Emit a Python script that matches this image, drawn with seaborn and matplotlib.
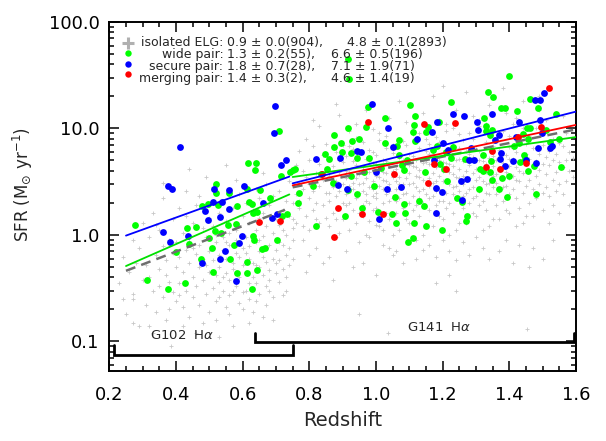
import matplotlib
matplotlib.use("Agg")
import matplotlib.pyplot as plt
from matplotlib.ticker import MultipleLocator, LogLocator, FixedLocator, FixedFormatter, NullFormatter
import seaborn as sns
import pandas as pd

# ---------------- data ----------------
gray_lowz = [
    (0.23,0.35),(0.24,0.62),(0.25,0.18),(0.26,0.45),(0.27,0.9),(0.27,0.28),(0.28,0.55),(0.29,0.14),(0.29,0.75),(0.30,0.38),
    (0.30,1.3),(0.24,0.25),(0.27,0.25),(0.27,0.15),(0.32,0.14),
    (0.31,0.52),(0.31,0.22),(0.32,0.95),(0.32,0.40),(0.33,0.30),(0.33,1.6),(0.34,0.65),(0.34,0.19),(0.35,0.48),(0.35,1.1),
    (0.35,0.33),(0.36,0.78),(0.36,0.26),(0.36,2.2),(0.37,0.58),(0.37,0.42),(0.37,0.16),(0.38,0.9),(0.38,0.36),(0.38,0.2),
    (0.385,0.09),(0.39,0.68),(0.39,1.4),(0.39,0.29),(0.40,0.5),(0.40,0.24),(0.40,0.85),(0.33,0.12),(0.36,3.1),(0.34,1.25),
    (0.41,0.62),(0.41,0.35),(0.41,1.8),(0.42,0.45),(0.42,0.21),(0.42,1.05),(0.43,0.72),(0.43,0.3),(0.43,2.6),(0.44,0.55),
    (0.44,0.17),(0.44,0.88),(0.45,0.4),(0.45,1.3),(0.45,0.26),(0.46,0.66),(0.46,0.33),(0.46,1.9),(0.46,0.12),(0.47,0.8),
    (0.47,0.5),(0.47,0.22),(0.48,1.15),(0.48,0.38),(0.48,0.6),(0.49,0.28),(0.49,0.95),(0.49,3.5),(0.50,0.45),(0.50,0.7),
    (0.50,0.19),(0.50,1.45),(0.44,4.2),(0.47,2.3),(0.42,0.14),(0.45,0.75),(0.48,0.15),(0.43,1.5),(0.49,0.52),(0.41,0.27),
    (0.51,0.58),(0.51,0.32),(0.51,1.2),(0.51,2.8),(0.52,0.42),(0.52,0.85),(0.52,0.24),(0.52,0.16),(0.53,0.65),(0.53,1.6),
    (0.53,0.36),(0.53,0.5),(0.54,0.3),(0.54,0.95),(0.54,0.72),(0.54,2.1),(0.55,0.44),(0.55,0.21),(0.55,1.35),(0.55,0.6),
    (0.56,0.27),(0.56,0.8),(0.56,1.05),(0.56,0.38),(0.57,0.55),(0.57,0.14),(0.57,1.8),(0.57,0.48),(0.58,0.33),(0.58,0.9),
    (0.58,0.68),(0.58,3.3),(0.59,0.4),(0.59,1.25),(0.59,0.23),(0.59,0.62),(0.60,0.75),(0.60,0.29),(0.60,1.5),(0.60,0.52),
    (0.53,0.11),(0.55,4.5),(0.56,0.18),(0.57,0.3),(0.58,0.45),(0.52,1.0),(0.54,0.4),(0.59,2.4),(0.51,0.75),(0.56,0.58),
    (0.60,0.2),(0.53,0.26),(0.55,0.85),(0.58,1.1),(0.57,0.78),
    (0.61,0.45),(0.61,0.95),(0.61,0.3),(0.61,2.0),(0.62,0.6),(0.62,0.25),(0.62,1.3),(0.62,0.78),(0.63,0.4),(0.63,1.7),
    (0.63,0.55),(0.63,0.19),(0.64,0.85),(0.64,0.35),(0.64,1.1),(0.64,2.7),(0.65,0.5),(0.65,0.7),(0.65,0.28),(0.65,1.45),
    (0.66,0.62),(0.66,0.42),(0.66,0.98),(0.66,3.8),(0.67,0.33),(0.67,1.2),(0.67,0.56),(0.67,0.22),(0.68,0.8),(0.68,1.9),
    (0.68,0.47),(0.68,0.38),(0.69,1.05),(0.69,0.6),(0.69,0.26),(0.69,2.3),(0.70,0.72),(0.70,1.4),(0.70,0.44),(0.70,0.9),
    (0.62,0.15),(0.64,0.52),(0.66,0.17),(0.67,0.75),(0.63,1.0),(0.65,2.2),(0.68,0.3),(0.69,0.16),(0.61,0.68),(0.64,0.24),
    (0.66,1.6),(0.67,3.0),(0.70,0.55),(0.62,0.35),(0.65,0.9),
    (0.71,0.58),(0.71,1.25),(0.71,0.36),(0.71,2.6),(0.72,0.8),(0.72,1.7),(0.72,0.48),(0.72,0.27),(0.73,1.0),(0.73,0.65),
    (0.73,2.1),(0.73,0.4),(0.74,1.5),(0.74,0.75),(0.74,3.2),(0.74,0.52),(0.75,1.15),(0.75,0.9),(0.75,2.0),(0.75,0.6),
    (0.72,1.1),(0.73,0.3),(0.74,4.0),(0.71,0.85),(0.75,1.4),
]

gray_highz = [
    (0.76,2.4),(0.76,4.5),(0.76,1.3),(0.77,3.1),(0.77,6.2),(0.77,1.8),(0.78,2.7),(0.78,0.9),(0.78,4.0),(0.79,3.5),
    (0.79,1.5),(0.79,8.0),(0.80,2.2),(0.80,5.0),(0.80,1.1),(0.80,3.0),(0.81,2.6),(0.81,6.8),(0.81,1.7),(0.82,3.8),
    (0.82,0.75),(0.82,2.0),(0.83,4.6),(0.83,2.9),(0.83,1.3),(0.83,10.5),(0.84,3.3),(0.84,1.9),(0.84,5.6),(0.84,0.55),
    (0.85,2.5),(0.85,4.2),(0.85,1.45),(0.85,7.2),(0.78,1.2),(0.80,0.65),(0.82,1.4),(0.77,2.1),(0.79,0.45),(0.81,12.0),
    (0.86,3.6),(0.86,2.1),(0.86,5.3),(0.86,1.2),(0.87,2.8),(0.87,4.4),(0.87,1.6),(0.87,8.5),(0.88,3.2),(0.88,2.3),
    (0.88,6.0),(0.88,0.95),(0.89,3.9),(0.89,1.8),(0.89,2.6),(0.89,13.5),(0.90,4.8),(0.90,3.0),(0.90,1.4),(0.90,7.0),
    (0.91,2.4),(0.91,3.4),(0.91,5.5),(0.91,0.7),(0.92,2.0),(0.92,4.1),(0.92,1.1),(0.92,9.5),(0.93,3.1),(0.93,6.4),
    (0.93,1.7),(0.93,2.7),(0.94,4.5),(0.94,2.2),(0.94,1.3),(0.94,11.0),(0.95,3.7),(0.95,5.8),(0.95,2.5),(0.95,0.85),
    (0.86,2.5),(0.87,3.3),(0.88,1.4),(0.89,5.0),(0.90,2.0),(0.91,4.0),(0.92,2.9),(0.93,0.5),(0.94,3.4),(0.95,1.6),
    (0.87,0.38),(0.95,0.18),(0.88,17.0),(0.92,6.9),(0.94,8.2),(0.86,0.62),(0.91,1.9),(0.93,4.9),(0.89,1.05),(0.95,3.0),
    (0.96,4.3),(0.96,2.6),(0.96,1.5),(0.96,7.5),(0.97,3.4),(0.97,5.2),(0.97,2.1),(0.97,1.0),(0.98,3.9),(0.98,2.8),
    (0.98,6.3),(0.98,1.35),(0.99,4.7),(0.99,2.3),(0.99,3.2),(0.99,9.8),(1.00,3.6),(1.00,1.8),(1.00,5.6),(1.00,2.5),
    (1.01,4.1),(1.01,2.9),(1.01,1.2),(1.01,7.8),(1.02,3.3),(1.02,5.0),(1.02,2.0),(1.02,0.8),(1.03,3.8),(1.03,2.4),
    (1.03,6.6),(1.03,1.6),(1.04,4.4),(1.04,3.0),(1.04,1.4),(1.04,12.5),(1.05,3.5),(1.05,5.9),(1.05,2.2),(1.05,0.65),
    (0.96,3.1),(0.97,2.4),(0.98,4.9),(0.99,1.7),(1.00,2.2),(1.01,3.5),(1.02,2.7),(1.03,4.9),(1.04,2.1),(1.05,4.0),
    (0.96,0.55),(0.98,0.95),(1.00,0.42),(1.02,1.1),(1.04,0.75),(0.97,15.0),(0.99,6.0),(1.01,9.0),(1.03,8.5),(1.05,7.0),
    (0.96,1.9),(0.98,2.0),(1.00,4.6),(1.01,1.6),(1.02,3.9),(1.03,3.2),(1.04,2.6),(0.99,2.7),(1.00,1.25),(1.036,0.12),
    (1.06,4.2),(1.06,2.7),(1.06,6.8),(1.06,1.6),(1.07,3.5),(1.07,5.3),(1.07,2.2),(1.07,1.1),(1.08,4.0),(1.08,3.0),
    (1.08,7.6),(1.08,1.8),(1.09,4.8),(1.09,2.5),(1.09,3.4),(1.09,11.5),(1.10,3.8),(1.10,2.0),(1.10,5.7),(1.10,1.3),
    (1.11,4.4),(1.11,3.1),(1.11,2.3),(1.11,8.8),(1.12,3.6),(1.12,5.1),(1.12,1.9),(1.12,0.9),(1.13,4.1),(1.13,2.6),
    (1.13,6.5),(1.13,1.5),(1.14,4.7),(1.14,3.3),(1.14,2.0),(1.14,14.0),(1.15,3.9),(1.15,6.1),(1.15,2.4),(1.15,1.2),
    (1.06,3.2),(1.07,4.5),(1.08,2.4),(1.09,1.4),(1.10,3.0),(1.11,5.5),(1.12,2.8),(1.13,3.5),(1.14,1.0),(1.15,4.8),
    (1.06,0.7),(1.08,0.55),(1.10,0.85),(1.12,0.6),(1.14,0.72),(1.07,18.0),(1.09,7.0),(1.11,10.0),(1.13,9.0),(1.15,8.0),
    (1.06,2.1),(1.08,5.0),(1.10,4.5),(1.12,4.3),(1.14,2.7),(1.07,3.0),(1.09,2.0),(1.11,1.7),(1.13,2.2),(1.05,1.0),
    (1.16,4.6),(1.16,2.9),(1.16,7.2),(1.16,1.7),(1.17,3.8),(1.17,5.7),(1.17,2.3),(1.17,1.2),(1.18,4.3),(1.18,3.2),
    (1.18,8.3),(1.18,1.9),(1.19,5.1),(1.19,2.7),(1.19,3.6),(1.19,12.0),(1.20,4.0),(1.20,2.1),(1.20,6.0),(1.20,1.4),
    (1.21,4.7),(1.21,3.3),(1.21,2.5),(1.21,9.5),(1.22,3.9),(1.22,5.5),(1.22,2.0),(1.22,1.0),(1.23,4.4),(1.23,2.8),
    (1.23,7.0),(1.23,1.6),(1.24,5.0),(1.24,3.5),(1.24,2.2),(1.24,15.0),(1.25,4.2),(1.25,6.5),(1.25,2.6),(1.25,1.3),
    (1.16,3.4),(1.17,4.8),(1.18,2.6),(1.19,1.5),(1.20,3.2),(1.21,5.9),(1.22,3.0),(1.23,3.7),(1.24,1.1),(1.25,5.2),
    (1.16,0.8),(1.18,0.62),(1.20,0.9),(1.22,0.7),(1.24,0.58),(1.17,20.0),(1.19,7.5),(1.21,11.0),(1.23,10.0),(1.25,8.8),
    (1.16,2.2),(1.18,5.3),(1.20,4.8),(1.22,4.6),(1.24,2.9),(1.17,3.1),(1.19,2.1),(1.21,1.8),(1.23,2.4),(1.25,3.4),
    (1.18,0.35),(1.22,0.42),(1.24,0.3),(1.20,25.0),(1.16,5.8),
    (1.26,4.9),(1.26,3.0),(1.26,7.8),(1.26,1.8),(1.27,4.0),(1.27,6.1),(1.27,2.5),(1.27,1.3),(1.28,4.5),(1.28,3.4),
    (1.28,9.0),(1.28,2.0),(1.29,5.4),(1.29,2.8),(1.29,3.8),(1.29,13.0),(1.30,4.2),(1.30,2.3),(1.30,6.4),(1.30,1.5),
    (1.31,5.0),(1.31,3.5),(1.31,2.6),(1.31,10.5),(1.32,4.1),(1.32,5.8),(1.32,2.1),(1.32,1.1),(1.33,4.6),(1.33,3.0),
    (1.33,7.4),(1.33,1.7),(1.34,5.3),(1.34,3.7),(1.34,2.4),(1.34,16.5),(1.35,4.4),(1.35,6.9),(1.35,2.8),(1.35,1.4),
    (1.26,3.6),(1.27,5.1),(1.28,2.7),(1.29,1.6),(1.30,3.3),(1.31,6.2),(1.32,3.2),(1.33,3.9),(1.34,1.2),(1.35,5.5),
    (1.26,0.85),(1.28,0.65),(1.30,0.95),(1.32,0.75),(1.34,0.6),(1.27,22.0),(1.29,8.0),(1.31,12.0),(1.33,11.0),(1.35,9.5),
    (1.26,2.3),(1.28,5.7),(1.30,5.1),(1.32,4.9),(1.34,3.1),(1.27,3.3),(1.29,2.2),(1.31,1.9),(1.33,2.5),(1.35,3.6),
    (1.36,5.0),(1.36,3.1),(1.36,8.0),(1.36,1.9),(1.37,4.2),(1.37,6.3),(1.37,2.6),(1.37,1.4),(1.38,4.7),(1.38,3.5),
    (1.38,9.5),(1.38,2.1),(1.39,5.6),(1.39,2.9),(1.39,3.9),(1.39,14.0),(1.40,4.4),(1.40,2.4),(1.40,6.7),(1.40,1.6),
    (1.41,5.2),(1.41,3.6),(1.41,2.7),(1.41,11.0),(1.42,4.3),(1.42,6.0),(1.42,2.2),(1.42,1.2),(1.43,4.8),(1.43,3.2),
    (1.43,7.7),(1.43,1.8),(1.44,5.5),(1.44,3.8),(1.44,2.5),(1.44,18.0),(1.45,4.6),(1.45,7.1),(1.45,2.9),(1.45,1.5),
    (1.36,3.7),(1.37,5.3),(1.38,2.8),(1.39,1.7),(1.40,3.4),(1.41,6.5),(1.42,3.3),(1.43,4.0),(1.44,1.3),(1.45,5.8),
    (1.37,0.7),(1.39,0.9),(1.41,0.55),(1.43,0.8),(1.38,24.0),(1.40,8.5),(1.42,12.5),(1.44,10.0),(1.36,2.4),(1.40,5.2),
    (1.46,5.2),(1.46,3.3),(1.46,8.5),(1.46,2.0),(1.47,4.4),(1.47,6.6),(1.47,2.7),(1.47,1.5),(1.48,4.9),(1.48,3.6),
    (1.48,10.0),(1.48,2.2),(1.49,5.8),(1.49,3.0),(1.49,4.1),(1.49,15.0),(1.50,4.6),(1.50,2.5),(1.50,7.0),(1.50,1.7),
    (1.51,5.4),(1.51,3.7),(1.51,2.8),(1.51,12.0),(1.52,4.5),(1.52,6.2),(1.52,2.3),(1.52,1.3),(1.53,5.0),(1.53,3.3),
    (1.53,8.0),(1.53,1.9),(1.54,5.7),(1.54,3.9),(1.54,2.6),(1.55,4.8),(1.55,7.3),(1.55,3.0),(1.55,1.6),(1.47,0.75),
    (1.50,0.6),(1.53,0.9),(1.49,20.0),(1.453,0.13),(1.46,0.5),
    (1.56,4.3),(1.56,6.8),(1.56,2.4),(1.57,5.1),(1.57,3.2),(1.57,9.0),(1.58,4.0),(1.58,1.9),(1.58,6.0),(1.59,3.5),
    (1.59,5.3),(1.56,13.0),
]

wide_pair = [
    # low redshift (G102)
    (0.71,9.5),(0.615,4.7),(0.64,4.7),(0.636,4.1),(0.742,3.9),(0.75,4.1),(0.715,3.56),(0.52,3.03),(0.559,2.46),
    (0.519,2.47),(0.612,2.7),(0.653,2.63),(0.681,2.24),(0.478,1.87),(0.495,1.97),(0.527,1.93),(0.582,1.87),
    (0.618,2.04),(0.627,1.94),(0.644,1.63),(0.631,1.61),(0.732,1.57),(0.718,1.52),(0.276,1.23),(0.434,1.17),
    (0.46,1.18),(0.556,1.24),(0.581,1.27),(0.518,1.09),(0.534,1.05),(0.499,0.94),(0.63,0.97),(0.634,0.90),
    (0.702,0.89),(0.439,0.83),(0.575,0.80),(0.507,0.76),(0.658,0.73),(0.667,0.75),(0.401,0.69),(0.561,0.60),
    (0.475,0.59),(0.612,0.56),(0.644,0.47),(0.51,0.45),(0.584,0.44),(0.613,0.44),(0.312,0.376),(0.428,0.35),
    (0.377,0.31),(0.627,0.31),
    # high redshift (G141)
    (0.765,2.0),(0.917,44.6),(0.918,29.0),(0.975,15.8),(1.102,16.6),(1.224,17.9),(1.116,13.1),(1.19,11.4),
    (1.157,10.3),(1.114,10.7),(1.151,9.3),(1.026,12.6),(0.97,10.4),(0.917,10.0),(0.874,8.6),(0.928,7.7),
    (0.949,7.9),(0.895,7.3),(1.028,7.3),(1.07,7.8),(1.064,6.8),(1.11,9.3),(1.118,7.7),(0.874,6.7),(0.897,6.0),
    (0.926,5.9),(0.943,5.3),(0.847,5.8),(0.859,5.2),(0.98,5.3),(1.07,5.6),(1.092,5.0),(1.172,6.3),(1.184,6.8),
    (1.21,6.0),(1.231,6.7),(1.224,5.3),(1.147,3.9),(1.192,4.6),(1.205,4.2),(1.267,5.2),(1.311,4.2),(0.757,4.2),
    (0.852,4.2),(0.812,2.9),(0.835,3.7),(0.871,3.1),(0.925,3.6),(0.965,3.9),(1.014,4.25),(1.077,4.5),(1.085,4.1),
    (0.769,2.46),(0.916,2.63),(0.942,2.4),(0.993,2.9),(1.057,2.28),(1.084,1.97),(1.13,2.1),(1.144,1.87),
    (1.212,3.2),(1.244,2.2),(1.259,2.04),(0.908,1.5),(0.958,1.8),(1.007,1.63),(1.048,1.57),(1.087,1.6),
    (1.272,1.5),(1.269,1.34),(0.82,1.21),(1.061,1.28),(1.115,1.29),(1.149,1.21),(1.197,1.12),(1.095,0.86),
    (1.111,0.94),
    (1.399,30.9),(1.335,22.0),(1.35,19.9),(1.463,18.8),(1.374,15.7),(1.387,15.7),(1.423,14.5),(1.486,15.5),
    (1.54,13.8),(1.325,12.6),(1.329,10.6),(1.347,9.7),(1.342,8.7),(1.331,9.4),(1.452,10.0),(1.461,10.0),
    (1.44,8.9),(1.509,9.7),(1.455,8.0),(1.548,8.0),(1.521,7.5),(1.413,6.8),(1.428,7.3),(1.32,5.6),(1.345,4.9),
    (1.443,5.6),(1.447,5.2),(1.432,4.8),(1.473,4.4),(1.554,4.3),(1.322,4.0),(1.343,3.9),(1.455,4.0),(1.378,3.4),
    (1.399,3.55),(1.347,3.3),(1.309,2.7),(1.369,2.7),(1.392,2.25),(1.479,2.4),
]

secure_pair = [
    # low redshift (G102)
    (0.697,16.4),(0.694,9.1),(0.411,6.7),(0.714,4.5),(0.73,5.0),(0.377,2.9),(0.389,2.7),(0.515,2.69),(0.559,2.63),
    (0.604,2.88),(0.51,2.04),(0.539,2.03),(0.66,2.0),(0.488,1.69),(0.559,1.75),(0.497,1.38),(0.531,1.47),
    (0.703,1.57),(0.689,1.44),(0.362,1.06),(0.435,0.98),(0.381,0.86),(0.597,0.98),(0.589,0.84),(0.546,0.71),
    (0.533,0.60),(0.478,0.54),(0.581,0.365),
    # high redshift (G141)
    (0.988,16.9),(1.036,10.0),(0.943,6.15),(0.956,6.0),(0.821,5.2),(0.891,5.3),(1.05,6.7),(1.124,8.0),(1.167,9.2),
    (1.184,11.4),(1.23,13.6),(1.264,13.1),(1.302,11.4),(1.306,9.7),(1.2,7.3),(1.215,6.3),(1.286,6.5),(1.173,5.1),
    (1.278,5.0),(1.294,5.0),(1.0,3.9),(0.887,2.95),(0.912,2.7),(1.032,2.7),(1.076,2.8),(1.18,2.75),(1.198,2.52),
    (1.255,3.2),(1.272,3.35),(1.008,1.42),(1.18,1.62),(1.259,2.15),
    (1.504,21.6),(1.477,18.6),(1.492,18.4),(1.347,13.6),(1.428,11.5),(1.491,12.0),(1.497,9.1),(1.369,8.6),
    (1.357,7.8),(1.421,8.3),(1.486,6.6),(1.521,6.6),(1.528,6.9),(1.375,5.9),(1.373,5.2),(1.386,4.4),(1.411,4.9),
    (1.45,5.0),(1.479,4.7),
]

merging_pair = [
    (0.649,1.32),(0.712,1.35),
    (0.975,11.5),(1.144,11.0),(1.237,11.2),(1.173,4.6),(1.21,4.2),(0.838,3.7),(1.055,3.7),(1.155,3.1),
    (0.887,1.8),(0.958,1.58),(1.02,1.57),(0.873,0.95),
    (1.519,24.2),(1.494,10.4),(1.426,8.3),(1.347,6.2),(1.45,4.7),(1.329,4.3),(1.371,4.2),
]

# linear fits in log(SFR): [(z_start, SFR_start), (z_end, SFR_end)] per redshift window
fit_isolated = [[(0.25, 0.46), (0.727, 1.72)], [(0.75, 2.8), (1.6, 9.8)]]
fit_wide = [[(0.25, 0.51), (0.74, 2.4)], [(0.75, 3.5), (1.6, 8.3)]]
fit_secure = [[(0.25, 0.985), (0.74, 3.53)], [(0.75, 3.05), (1.6, 14.4)]]
fit_merging = [[(0.75, 2.92), (1.6, 10.8)]]

# grism coverage brackets: (z_min, z_max, SFR level, SFR top of end ticks)
g102_bracket = (0.215, 0.752, 0.0752, 0.093)
g141_bracket = (0.638, 1.593, 0.099, 0.12)
g102_label = (0.42, 0.113)
g141_label = (1.19, 0.135)

legend_labels = ["isolated ELG:", "wide pair:", "secure pair:", "merging pair:"]
legend_g102 = ["0.9 \u00b1 0.0(904),", "1.3 \u00b1 0.2(55),", "1.8 \u00b1 0.7(28),", "1.4 \u00b1 0.3(2),"]
legend_g141 = ["    4.8 \u00b1 0.1(2893)", "6.6 \u00b1 0.5(196)", "7.1 \u00b1 1.9(71)", "4.6 \u00b1 1.4(19)"]

xticks = [0.2, 0.4, 0.6, 0.8, 1.0, 1.2, 1.4, 1.6]
xticklabels = ["0.2", "0.4", "0.6", "0.8", "1.0", "1.2", "1.4", "1.6"]
yticks = [0.1, 1.0, 10.0, 100.0]
yticklabels = ["0.1", "1.0", "10.0", "100.0"]

# ---------------- style ----------------
sns.set_style("ticks")
plt.rcParams["font.family"] = ["DejaVu Sans"]
plt.rcParams["mathtext.fontset"] = "dejavusans"
plt.rcParams["axes.linewidth"] = 1.4

GRAY = "#c8c8c8"
GREEN = "#00ff00"
BLUE = "#0000ff"
RED = "#ff0000"

fig = plt.figure(figsize=(6.06, 4.41), dpi=100)
ax = fig.add_axes([0.1804, 0.1594, 0.7701, 0.7907])

def frame(points):
    return pd.DataFrame(points, columns=["z", "sfr"])

gray_df = pd.concat([frame(gray_lowz), frame(gray_highz)], ignore_index=True)
sns.scatterplot(data=gray_df, x="z", y="sfr", ax=ax, marker="+", color=GRAY,
                s=11, linewidth=0.6, zorder=1, legend=False)

for pts, col, z in [(wide_pair, GREEN, 3), (secure_pair, BLUE, 4), (merging_pair, RED, 5)]:
    sns.scatterplot(data=frame(pts), x="z", y="sfr", ax=ax, color=col, s=24,
                    linewidth=0, zorder=z, legend=False)

def draw_fit(segments, color, dashed=False, lw=1.3):
    for seg in segments:
        sns.lineplot(data=frame(seg), x="z", y="sfr", ax=ax, color=color, lw=lw,
                     zorder=6, legend=False, estimator=None, sort=False)
        if dashed:
            ax.lines[-1].set_dashes([4, 2.5])

draw_fit(fit_isolated, "#6e6e6e", dashed=True, lw=1.8)
draw_fit(fit_wide, "#00e000")
draw_fit(fit_merging, RED)
draw_fit(fit_secure, BLUE)

# coverage brackets
for (z0, z1, lev, top) in [g102_bracket, g141_bracket]:
    ax.plot([z0, z0, z1, z1], [top, lev, lev, top], color="black", lw=2.0, zorder=7,
            solid_joinstyle="miter")
ax.text(g102_label[0], g102_label[1], r"G102  H$\alpha$", fontsize=9.5, ha="center", va="center")
ax.text(g141_label[0], g141_label[1], r"G141  H$\alpha$", fontsize=9.5, ha="center", va="center")

# legend block (one multi-line text per column)
row_y = [0.9406, 0.9102, 0.8796, 0.850]
key_styles = [dict(marker="+", color="#b0b0b0", ms=8, mew=2.2),
              dict(marker="o", color=GREEN, ms=4.6, mew=0),
              dict(marker="o", color=BLUE, ms=4.6, mew=0),
              dict(marker="o", color=RED, ms=4.6, mew=0)]
for i in range(4):
    ax.plot([0.0407], [row_y[i]], transform=ax.transAxes, ls="none", zorder=8, **key_styles[i])
block_top = row_y[0] + 0.018
common = dict(transform=ax.transAxes, fontsize=9, va="top", zorder=8, linespacing=0.88)
ax.text(0.2443, block_top, "\n".join(legend_labels), ha="right", multialignment="right", **common)
ax.text(0.252, block_top, "\n".join(legend_g102), ha="left", multialignment="left", **common)
ax.text(0.475, block_top, "\n".join(legend_g141), ha="left", multialignment="left", **common)

# axes
ax.set_yscale("log")
ax.set_xlim(0.2, 1.6)
ax.set_ylim(0.053, 100)
ax.xaxis.set_major_locator(FixedLocator(xticks))
ax.xaxis.set_major_formatter(FixedFormatter(xticklabels))
ax.xaxis.set_minor_locator(MultipleLocator(0.05))
ax.yaxis.set_major_locator(FixedLocator(yticks))
ax.yaxis.set_major_formatter(FixedFormatter(yticklabels))
ax.yaxis.set_minor_locator(LogLocator(base=10, subs=[2, 3, 4, 5, 6, 7, 8, 9]))
ax.yaxis.set_minor_formatter(NullFormatter())
ax.tick_params(which="both", direction="in", top=True, right=True, width=1.1,
               labelsize=13, colors="black")
ax.tick_params(which="major", length=7)
ax.tick_params(axis="x", which="major", pad=11)
ax.tick_params(axis="y", which="major", pad=7)
ax.tick_params(which="minor", length=3.5)
for sp in ax.spines.values():
    sp.set_visible(True)
    sp.set_color("black")

ax.set_xlabel("Redshift", fontsize=14)
ax.set_ylabel(r"SFR (M$_{\odot}$ yr$^{-1}$)", fontsize=12)
ax.xaxis.set_label_coords(0.5, -0.115)
ax.yaxis.set_label_coords(-0.16, 0.535)

fig.savefig("out.png", dpi=100)
